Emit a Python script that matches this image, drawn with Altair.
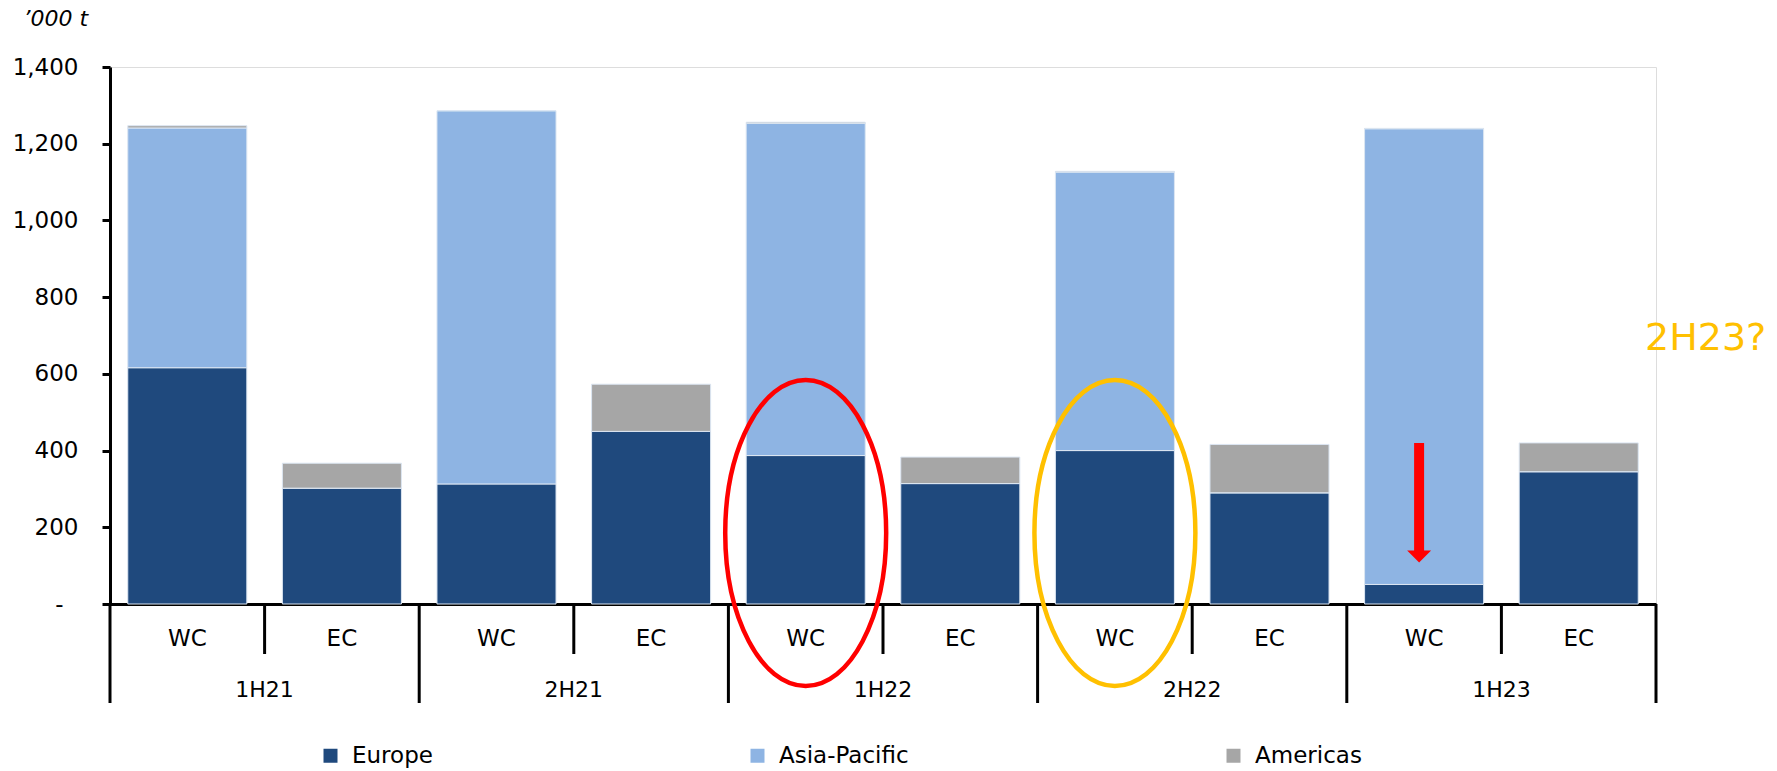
import altair as alt
import pandas as pd

# ---- data ----
periods = ["1H21", "1H21", "2H21", "2H21", "1H22", "1H22", "2H22", "2H22", "1H23", "1H23"]
regions = ["WC", "EC", "WC", "EC", "WC", "EC", "WC", "EC", "WC", "EC"]
europe = [616, 302, 313, 450, 387, 314, 400, 290, 51, 345]
asia_pacific = [625, 0, 973, 0, 866, 0, 726, 0, 1188, 0]
americas = [6, 65, 0, 123, 3, 69, 2, 126, 1, 75]
series = ["Europe", "Asia-Pacific", "Americas"]
colors = ["#1F497D", "#8EB4E3", "#A6A6A6"]
y_ticks = [0, 200, 400, 600, 800, 1000, 1200, 1400]
period_names = ["1H21", "2H21", "1H22", "2H22", "1H23"]

keys = [f"{p}|{r}" for p, r in zip(periods, regions)]

rows = []
for i, k in enumerate(keys):
    for s_i, (name, vals) in enumerate(zip(series, [europe, asia_pacific, americas])):
        rows.append({"key": k, "series": name, "value": vals[i], "ord": s_i})
df = pd.DataFrame(rows)

W, H = 1546, 537
FONT = "DejaVu Sans"
PAD_IN = 0.23
HALF_GAP = W / len(keys) * PAD_IN / 2  # distance from bar edge to band-step edge

xscale = alt.Scale(domain=keys, paddingInner=PAD_IN, paddingOuter=PAD_IN / 2)

bars = alt.Chart(df).mark_bar(stroke="#dce6f2", strokeWidth=1).encode(
    x=alt.X("key:N", scale=xscale, sort=keys,
            axis=alt.Axis(title=None, labelExpr="split(datum.label, '|')[1]", labelAngle=0,
                          ticks=False, domainWidth=3, domainColor="black",
                          labelFontSize=23, labelColor="black", labelPadding=23, labelFont=FONT)),
    y=alt.Y("value:Q", stack="zero", scale=alt.Scale(domain=[0, 1400], nice=False),
            axis=alt.Axis(values=y_ticks, grid=False,
                          labelExpr="datum.value == 0 ? '-' : format(datum.value, ',')",
                          labelPadding={"condition": {"test": "datum.value == 0", "value": 39}, "value": 24},
                          tickSize=8, tickWidth=3, tickColor="black", domainWidth=3, domainColor="black",
                          labelFontSize=23, labelColor="black", labelFont=FONT,
                          title="\u2019000 t", titleAngle=0, titleX=-87, titleY=-42, titleAlign="left",
                          titleBaseline="alphabetic", titleFontStyle="italic", titleFontWeight="normal",
                          titleFontSize=22, titleFont=FONT, titleColor="black")),
    color=alt.Color("series:N", scale=alt.Scale(domain=series, range=colors),
                    legend=alt.Legend(orient="none", legendX=209, legendY=677, direction="horizontal",
                                      title=None, symbolType="square", symbolSize=196,
                                      symbolStrokeWidth=0, labelFontSize=23, labelFont=FONT,
                                      labelColor="black", columnPadding=313, labelOffset=10)),
    order=alt.Order("ord:Q"),
)

# hierarchical axis separators
group_starts = pd.DataFrame({"key": [f"{p}|WC" for p in period_names]})
group_end = pd.DataFrame({"key": ["1H23|EC"]})
inner = pd.DataFrame({"key": [f"{p}|EC" for p in period_names]})

rule_groups = alt.Chart(group_starts).mark_rule(color="black", strokeWidth=3, xOffset=-HALF_GAP).encode(
    x=alt.X("key:N", scale=xscale, bandPosition=0),
    y=alt.value(H), y2=alt.value(H + 99))
rule_end = alt.Chart(group_end).mark_rule(color="black", strokeWidth=3, xOffset=HALF_GAP).encode(
    x=alt.X("key:N", scale=xscale, bandPosition=1),
    y=alt.value(H), y2=alt.value(H + 99))
rule_inner = alt.Chart(inner).mark_rule(color="black", strokeWidth=3, xOffset=-HALF_GAP).encode(
    x=alt.X("key:N", scale=xscale, bandPosition=0),
    y=alt.value(H), y2=alt.value(H + 50))

period_df = pd.DataFrame({"key": [f"{p}|EC" for p in period_names], "period": period_names})
period_labels = alt.Chart(period_df).mark_text(fontSize=22, font=FONT, color="black",
                                               baseline="middle", align="center", dx=-HALF_GAP).encode(
    x=alt.X("key:N", scale=xscale, bandPosition=0),
    y=alt.value(H + 86), text="period:N")

# annotations: ellipses
ell_path = ("M 0 -1 C 0.2905 -1 0.526 -0.5523 0.526 0 C 0.526 0.5523 0.2905 1 0 1 "
            "C -0.2905 1 -0.526 0.5523 -0.526 0 C -0.526 -0.5523 -0.2905 -1 0 -1 Z")
ell_df = pd.DataFrame({"key": ["1H22|WC", "2H22|WC"], "yc": [185, 185], "col": ["#FF0000", "#FFC000"]})
ellipses = alt.Chart(ell_df).mark_point(shape=ell_path, size=93636, filled=False,
                                        strokeWidth=4.5, opacity=1).encode(
    x=alt.X("key:N", scale=xscale),
    y=alt.Y("yc:Q"),
    stroke=alt.Stroke("col:N", scale=None))

# red arrow
arrow_df = pd.DataFrame({"key": ["1H23|WC"], "top": [420], "bottom": [135], "head": [124]})
arrow_shaft = alt.Chart(arrow_df).mark_rule(color="#FF0000", strokeWidth=10, xOffset=-5).encode(
    x=alt.X("key:N", scale=xscale), y="top:Q", y2="bottom:Q")
arrow_head = alt.Chart(arrow_df).mark_point(shape="M -1 -0.5 L 1 -0.5 L 0 0.5 Z", size=576,
                                            filled=True, color="#FF0000", opacity=1,
                                            strokeWidth=0, xOffset=-5).encode(
    x=alt.X("key:N", scale=xscale), y="head:Q")

note = alt.Chart(pd.DataFrame({"t": ["2H23?"]})).mark_text(
    fontSize=38, font=FONT, color="#FFC000", align="left", baseline="alphabetic").encode(
    x=alt.value(1535), y=alt.value(283), text="t:N")

chart = alt.layer(bars, rule_groups, rule_end, rule_inner, period_labels,
                  ellipses, arrow_shaft, arrow_head, note).properties(
    width=W, height=H,
    autosize=alt.AutoSizeParams(type="none"),
    padding={"left": 110, "top": 67, "right": 121, "bottom": 167},
).configure_view(stroke=None).configure(font=FONT, background="white")

chart.save("out.html", embed_options={"renderer": "svg", "actions": False})
